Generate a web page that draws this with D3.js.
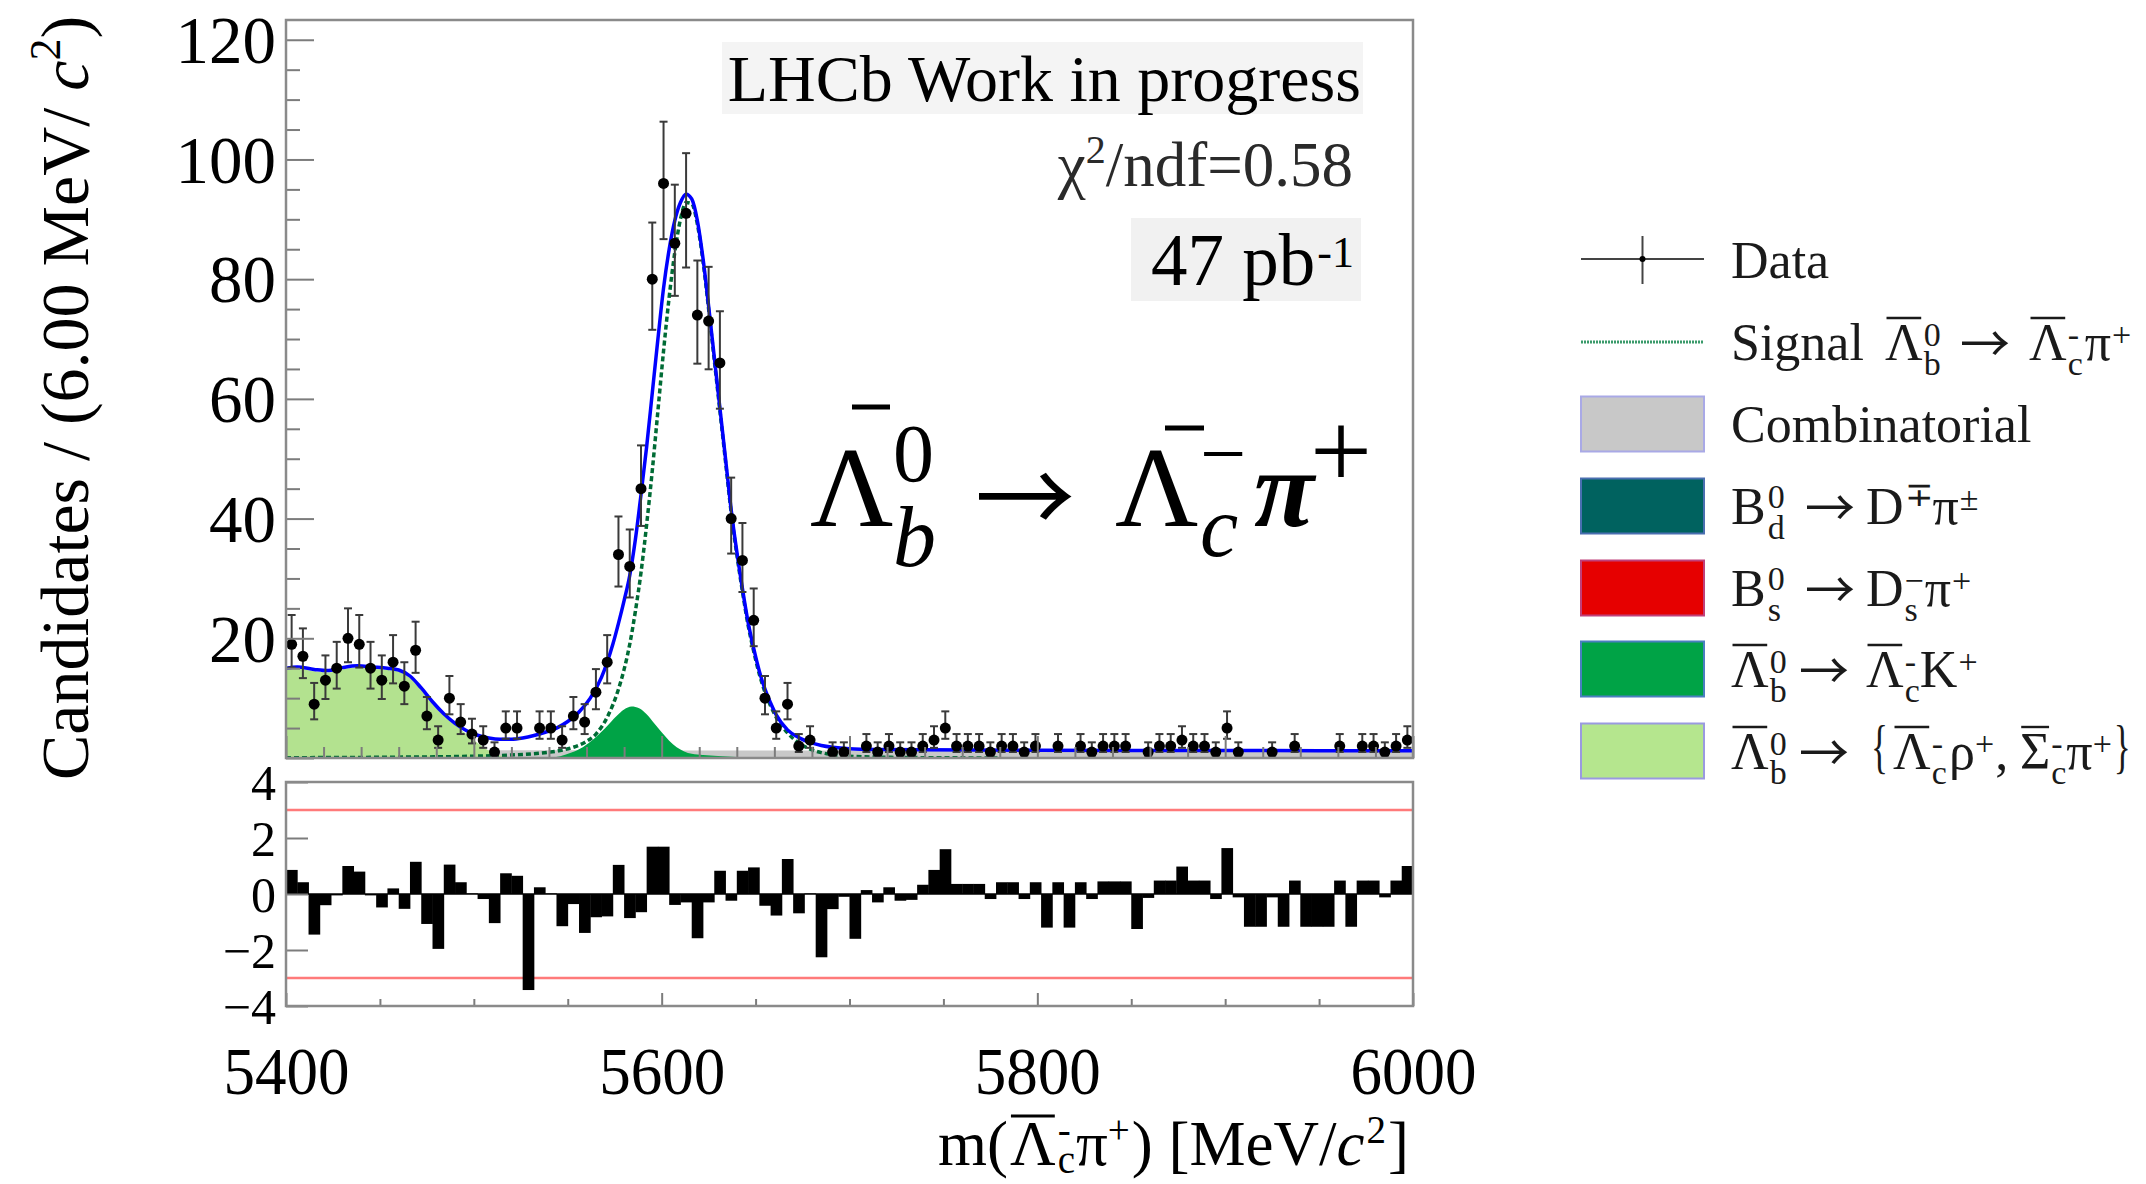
<!DOCTYPE html>
<html><head><meta charset="utf-8">
<script src="https://cdn.jsdelivr.net/npm/d3@7"></script>
<style>
html,body{margin:0;padding:0;background:#fff;}
svg{display:block;}
text{font-family:"Liberation Serif","Times New Roman",serif;}
</style></head><body>
<svg id="c" width="2146" height="1184"></svg>
<script>
// ---------------- data ----------------
const massBins = [5403,5409,5415,5421,5427,5433,5439,5445,5451,5457,5463,5469,5475,5481,5487,5493,5499,5505,5511,5517,
5523,5529,5535,5541,5547,5553,5559,5565,5571,5577,5583,5589,5595,5601,5607,5613,5619,5625,5631,5637,
5643,5649,5655,5661,5667,5673,5679,5685,5691,5697,5703,5709,5715,5721,5727,5733,5739,5745,5751,5757,
5763,5769,5775,5781,5787,5793,5799,5805,5811,5817,5823,5829,5835,5841,5847,5853,5859,5865,5871,5877,
5883,5889,5895,5901,5907,5913,5919,5925,5931,5937,5943,5949,5955,5961,5967,5973,5979,5985,5991,5997];
const binHalfWidth = 3;
const counts = [19,17,9,13,15,20,19,15,13,16,
12,18,7,3,10,6,4,3,1,5,
5,0,5,5,3,7,6,11,16,34,
32,45,80,96,86,91,74,73,66,40,
33,23,10,5,9,2,3,0,1,1,
0,2,1,2,1,1,2,3,5,2,
2,2,1,2,2,1,2,0,2,0,
2,1,2,2,2,0,1,2,2,3,
2,2,1,5,1,0,0,1,0,2,
0,0,0,2,0,2,2,1,2,3];
const pulls = [0.86,0.42,-1.45,-0.40,-0.05,1.00,0.80,-0.05,-0.48,0.20,
-0.53,1.15,-1.07,-1.96,1.05,0.42,0.02,-0.18,-1.04,0.74,
0.65,-3.43,0.24,0.02,-1.15,-0.36,-1.39,-0.83,-0.80,1.04,
-0.86,-0.65,1.69,1.69,-0.39,-0.30,-1.58,-0.30,0.83,-0.24,
0.83,0.95,-0.42,-0.77,1.25,-0.69,0.02,-2.26,-0.54,-0.10,
-1.60,0.14,-0.30,0.24,-0.24,-0.21,0.33,0.86,1.60,0.36,
0.36,0.36,-0.18,0.42,0.42,-0.18,0.42,-1.20,0.42,-1.20,
0.42,-0.18,0.45,0.45,0.45,-1.25,-0.14,0.48,0.48,0.98,
0.48,0.48,-0.18,1.64,-0.12,-1.17,-1.17,-0.12,-1.17,0.48,
-1.17,-1.17,-1.17,0.48,-1.17,0.48,0.48,-0.12,0.48,1.00];

const fitMass = [5400,5406,5415,5422,5430,5438,5446,5454,5460,5466,5472,5478,5484,5490,5496,5502,5508,5514,5520,5526,
5532,5538,5544,5550,5556,5562,5568,5574,5577,5580,5583,5586,5589,5592,5595,5598,5601,5604,5607,5610,
5613,5616,5619,5622,5625,5628,5631,5634,5637,5640,5643,5646,5649,5652,5655,5658,5661,5667,5673,5679,
5685,5691,5700,5715,5740,5800,5900,6000];
const fitTotal = [15.0,15.2,14.8,14.6,15.1,15.4,15.2,15.0,14.7,13.7,11.7,9.4,7.4,5.8,4.6,3.8,3.35,3.15,3.15,3.35,
3.75,4.3,5.0,6.1,7.7,10.0,13.5,19.0,22.5,26.3,30.5,36.5,44.0,52.0,61.0,70.0,78.5,85.0,89.8,92.8,
94.2,93.4,89.8,83.5,75.5,67.0,58.5,50.0,41.5,34.5,28.3,22.7,18.3,14.5,11.5,9.2,7.2,4.7,3.4,2.6,
2.1,1.8,1.55,1.42,1.36,1.3,1.25,1.2];
const sigMass = [5400,5450,5500,5520,5535,5545,5553,5559,5565,5571,5577,5580,5583,5586,5589,5592,5595,5598,5601,5604,
5607,5610,5613,5616,5619,5622,5625,5628,5631,5634,5637,5640,5643,5646,5649,5652,5655,5658,5661,5667,
5673,5679,5685,5691,5700,5720,5750,5780];
const sigVals = [0.05,0.12,0.3,0.5,0.8,1.2,1.8,2.6,4.0,6.8,11.5,14.8,19.0,24.5,31.0,39.0,48.0,58.0,68.0,77.0,
84.5,90.0,92.8,92.6,89.2,83.0,75.0,66.5,58.0,49.5,41.0,34.0,27.8,22.2,17.8,14.0,11.0,8.7,6.8,4.2,
2.5,1.5,0.9,0.55,0.3,0.12,0.04,0.0];
const partRecoMass = [5400,5406,5415,5422,5430,5438,5446,5454,5460,5466,5472,5478,5484,5490,5496,5502,5508,5514,5520];
const partRecoVals = [14.7,14.9,14.5,14.3,14.8,15.1,14.9,14.7,14.4,13.4,11.4,9.1,7.1,5.5,4.0,2.5,1.2,0.4,0.0];
const lcKMass = [5540,5546,5552,5558,5564,5570,5576,5580,5584,5588,5592,5596,5600,5604,5608,5612,5616,5622,5630,5640,5648];
const lcKVals = [0,0.3,0.9,1.8,3.2,5.0,7.0,8.1,8.6,8.3,7.3,5.8,4.3,2.9,1.8,1.1,0.7,0.5,0.35,0.15,0];
const combMass = [5400,5500,5600,5700,5800,5900,6000];
const combVals = [1.32,1.29,1.26,1.23,1.2,1.17,1.14];

const yTickValues = [20,40,60,80,100,120];
const yTickLabels = ['20','40','60','80','100','120'];
const xTickValues = [5400,5600,5800,6000];
const xTickLabels = ['5400','5600','5800','6000'];
const pullTickValues = [4,2,0,-2,-4];
const pullTickLabels = ['4','2','0','\u22122','\u22124'];

// ---------------- layout ----------------
const svg = d3.select('#c');
const X0 = 286, X1 = 1413, YT = 20, YB = 758, RT = 782, RB = 1006;
const x = d3.scaleLinear().domain([5400, 6000]).range([X0, X1]);
const y = d3.scaleLinear().domain([0, 123.3]).range([YB, YT]);
const yr = d3.scaleLinear().domain([-4, 4]).range([RB, RT]);
const FRAME = '#8a8a8a', TICK = '#7c7c7c';
const ARROWFONT = '"Noto Sans CJK JP","Noto Sans CJK SC","DejaVu Sans",sans-serif';

const defs = svg.append('defs');
defs.append('clipPath').attr('id','clipMain').append('rect').attr('x',X0).attr('y',YT).attr('width',X1-X0).attr('height',YB-YT);
defs.append('clipPath').attr('id','clipRes').append('rect').attr('x',X0).attr('y',RT).attr('width',X1-X0).attr('height',RB-RT);

// ---------------- main plot content ----------------
const gm = svg.append('g').attr('clip-path','url(#clipMain)');
function areaPath(ms, vs){
  return d3.area().x((d,i)=>x(ms[i])).y0(y(0)).y1(d=>y(d)).curve(d3.curveMonotoneX)(vs);
}
function linePath(ms, vs){
  return d3.line().x((d,i)=>x(ms[i])).y(d=>y(d)).curve(d3.curveMonotoneX)(vs);
}
gm.append('path').attr('d',areaPath(combMass,combVals)).attr('fill','#c8c8c8');
gm.append('path').attr('d',areaPath(partRecoMass,partRecoVals)).attr('fill','#b3e28f');
gm.append('path').attr('d',areaPath(lcKMass,lcKVals)).attr('fill','#00a346');
gm.append('path').attr('d',linePath(sigMass,sigVals)).attr('fill','none')
  .attr('stroke','#006b35').attr('stroke-width',3.5).attr('stroke-dasharray','5,3');
gm.append('path').attr('d',linePath(fitMass,fitTotal)).attr('fill','none')
  .attr('stroke','#0000ff').attr('stroke-width',3.5);

// data points
const pts = massBins.map((m,i)=>({m, n:counts[i]})).filter(d=>d.n>0);
const gd = svg.append('g');
pts.forEach(d=>{
  const s = Math.sqrt(d.n + 0.25);
  const lo = d.n - (s - 0.5), hi = d.n + (s + 0.5);
  const cx = x(d.m);
  gd.append('line').attr('x1',cx).attr('x2',cx).attr('y1',y(lo)).attr('y2',y(hi)).attr('stroke','#3a3a3a').attr('stroke-width',2);
  gd.append('line').attr('x1',cx-4).attr('x2',cx+4).attr('y1',y(hi)).attr('y2',y(hi)).attr('stroke','#3a3a3a').attr('stroke-width',2);
  gd.append('line').attr('x1',cx-4).attr('x2',cx+4).attr('y1',y(lo)).attr('y2',y(lo)).attr('stroke','#3a3a3a').attr('stroke-width',2);
  gd.append('circle').attr('cx',cx).attr('cy',y(d.n)).attr('r',5.5).attr('fill','#000');
});

// main axes (ticks inside)
const gy = svg.append('g').attr('transform',`translate(${X0},0)`)
  .call(d3.axisLeft(y).tickValues(d3.range(0,121,5)).tickSize(-14).tickFormat(''));
gy.select('.domain').remove();
gy.selectAll('.tick line').attr('stroke',TICK).attr('stroke-width',2).attr('x2',d=> d%20===0 ? 28 : 14);
const gyl = svg.append('g').attr('transform',`translate(${X0},0)`)
  .call(d3.axisLeft(y).tickValues(yTickValues).tickFormat((d,i)=>yTickLabels[i]).tickSize(0).tickPadding(10));
gyl.attr('font-size',null).attr('font-family',null);
gyl.select('.domain').remove();
gyl.selectAll('text').attr('font-size',67).attr('fill','#000').attr('dy','0.34em');

const gx = svg.append('g').attr('transform',`translate(0,${YB})`)
  .call(d3.axisBottom(x).tickValues(d3.range(5400,6001,20)).tickSize(-11).tickFormat(''));
gx.select('.domain').remove();
gx.selectAll('.tick line').attr('stroke',TICK).attr('stroke-width',2).attr('y2',d=> d%100===0 ? -22 : -11);

svg.append('rect').attr('x',X0).attr('y',YT).attr('width',X1-X0).attr('height',YB-YT)
  .attr('fill','none').attr('stroke',FRAME).attr('stroke-width',2.5);

// ---------------- residual plot ----------------
const gr = svg.append('g').attr('clip-path','url(#clipRes)');
gr.append('line').attr('x1',X0).attr('x2',X1).attr('y1',yr(3)).attr('y2',yr(3)).attr('stroke','#ff7a7a').attr('stroke-width',2.5);
gr.append('line').attr('x1',X0).attr('x2',X1).attr('y1',yr(-3)).attr('y2',yr(-3)).attr('stroke','#ff7a7a').attr('stroke-width',2.5);
gr.append('line').attr('x1',X0).attr('x2',X1).attr('y1',yr(0)).attr('y2',yr(0)).attr('stroke','#000').attr('stroke-width',1.5);
gr.selectAll('rect.bar').data(pulls).enter().append('rect').attr('class','bar')
  .attr('x',(d,i)=>x(massBins[i]-binHalfWidth))
  .attr('width',(d,i)=>x(massBins[i]+binHalfWidth)-x(massBins[i]-binHalfWidth)+0.4)
  .attr('y',d=>yr(Math.max(0,d)))
  .attr('height',d=>Math.abs(yr(d)-yr(0)))
  .attr('fill','#000');

const gry = svg.append('g').attr('transform',`translate(${X0},0)`)
  .call(d3.axisLeft(yr).tickValues(pullTickValues).tickSize(-22).tickFormat(''));
gry.select('.domain').remove();
gry.selectAll('.tick line').attr('stroke',TICK).attr('stroke-width',2);
const gryl = svg.append('g').attr('transform',`translate(${X0},0)`)
  .call(d3.axisLeft(yr).tickValues(pullTickValues).tickFormat((d,i)=>pullTickLabels[i]).tickSize(0).tickPadding(10));
gryl.attr('font-size',null).attr('font-family',null);
gryl.select('.domain').remove();
gryl.selectAll('text').attr('font-size',50).attr('fill','#000').attr('dy','0.34em');

const grx = svg.append('g').attr('transform',`translate(0,${RB})`)
  .call(d3.axisBottom(x).tickValues(d3.range(5400,6001,50)).tickSize(-7).tickFormat(''));
grx.select('.domain').remove();
grx.selectAll('.tick line').attr('stroke',TICK).attr('stroke-width',2).attr('y2',d=> d%200===0 ? -13 : -7);
const grxl = svg.append('g').attr('transform',`translate(0,${RB})`)
  .call(d3.axisBottom(x).tickValues(xTickValues).tickFormat((d,i)=>xTickLabels[i]).tickSize(0).tickPadding(40));
grxl.attr('font-size',null).attr('font-family',null);
grxl.select('.domain').remove();
grxl.selectAll('text').attr('font-size',67).attr('fill','#000').attr('dy','0.71em')
  .attr('textLength',126).attr('lengthAdjust','spacingAndGlyphs');

svg.append('rect').attr('x',X0).attr('y',RT).attr('width',X1-X0).attr('height',RB-RT)
  .attr('fill','none').attr('stroke',FRAME).attr('stroke-width',2.5);

// ---------------- rich text helper: one <text> with positioned tspans ----------------
function rich(parent, x0, y0, parts, opts){
  opts = opts || {};
  const color = opts.color || '#000';
  const g = parent.append('g').attr('fill',color);
  const t = g.append('text');
  let cx = x0, prevX = x0;
  parts.forEach(p=>{
    const px = p.stack ? prevX : (p.ax !== undefined ? p.ax : cx + (p.dx||0));
    const ts = t.append('tspan').attr('x',px).attr('y',y0+(p.dy||0)).attr('font-size',p.s).text(p.t);
    if(p.it) ts.attr('font-style','italic');
    if(p.bold) ts.attr('font-weight','bold');
    if(p.ff) ts.style('font-family',p.ff);
    if(p.tl){ ts.attr('textLength',p.tl).attr('lengthAdjust','spacingAndGlyphs'); }
    const w = p.tl ? p.tl : ts.node().getComputedTextLength();
    if(p.bar){
      g.append('line').attr('x1',px+p.bar[0]*w).attr('x2',px+p.bar[1]*w)
       .attr('y1',y0+p.bar[2]).attr('y2',y0+p.bar[2]).attr('stroke',color).attr('stroke-width',p.bar[3]||2.4);
    }
    if(!p.stack){ prevX = px; cx = px + w; } else { cx = Math.max(cx, px + w); }
  });
  if(opts.endX !== undefined) g.attr('transform',`translate(${opts.endX - cx},0)`);
  return cx;
}

// ---------------- annotations in main plot ----------------
svg.append('rect').attr('x',722).attr('y',42).attr('width',641).attr('height',72).attr('fill','#f4f4f4');
svg.append('text').attr('x',1361).attr('y',101).attr('text-anchor','end').attr('font-size',66).attr('fill','#000')
  .text('LHCb Work in progress');
const chi = svg.append('text').attr('x',1353).attr('y',186).attr('text-anchor','end').attr('font-size',63).attr('fill','#2a2a2a');
chi.append('tspan').text('\u03c7');
chi.append('tspan').attr('font-size',40).attr('dy',-23).text('2');
chi.append('tspan').attr('dy',23).text('/ndf=0.58');
svg.append('rect').attr('x',1131).attr('y',218).attr('width',230).attr('height',83).attr('fill','#f1f1f1');
rich(svg, 1151, 285, [
  {t:'47 pb', s:73, ax:1151},
  {t:'-1', s:44, dy:-18, dx:2}
]);

// big decay formula (positions)
rich(svg, 810, 526, [
  {t:'\u039b', s:115, ax:810},
  {t:'0', s:82, ax:893, dy:-45},
  {t:'b', s:86, dy:40, stack:true, it:true},
  {t:'\u2192', s:100, ax:975, dy:8, ff:ARROWFONT},
  {t:'\u039b', s:115, ax:1115},
  {t:'\u2212', s:82, ax:1200, dy:-45},
  {t:'c', s:86, dy:30, stack:true, it:true},
  {t:'\u03c0', s:110, ax:1254, it:true, bold:true},
  {t:'+', s:110, ax:1310, dy:-38}
]);
svg.append('line').attr('x1',852).attr('x2',890).attr('y1',407).attr('y2',407).attr('stroke','#000').attr('stroke-width',5);
svg.append('line').attr('x1',1165).attr('x2',1204).attr('y1',428).attr('y2',428).attr('stroke','#000').attr('stroke-width',5);

// ---------------- axis titles ----------------
const yl = svg.append('text').attr('transform','translate(88,398) rotate(-90)').attr('text-anchor','middle')
  .attr('font-size',68).attr('fill','#000');
yl.append('tspan').text('Candidates / (6.00 MeV/ ');
yl.append('tspan').attr('font-style','italic').text('c');
yl.append('tspan').attr('font-size',44).attr('dy',-28).text('2');
yl.append('tspan').attr('dy',28).text(')');

rich(svg, 914, 1165, [
  {t:'m(', s:63},
  {t:'\u039b', s:63, dx:2, bar:[0.02,0.98,-49,3]},
  {t:'-', s:39, dy:-22, dx:2},
  {t:'c', s:39, dy:8, stack:true},
  {t:'\u03c0', s:63, dx:1},
  {t:'+', s:39, dy:-22},
  {t:') [MeV/', s:63, dx:2},
  {t:'c', s:63, it:true},
  {t:'2', s:39, dy:-22, dx:2},
  {t:']', s:63, dx:2}
], {endX:1409});

// ---------------- legend ----------------
const LX0 = 1581, LW = 123, LH = 55, LTX = 1731;
const rowC = [259, 342, 424, 506, 588, 669, 751];
const LC = '#1a1a1a';
const gl = svg.append('g');
// Data
gl.append('line').attr('x1',LX0).attr('x2',LX0+LW).attr('y1',rowC[0]).attr('y2',rowC[0]).attr('stroke','#444').attr('stroke-width',2);
gl.append('line').attr('x1',LX0+LW/2).attr('x2',LX0+LW/2).attr('y1',rowC[0]-23).attr('y2',rowC[0]+25).attr('stroke','#444').attr('stroke-width',2);
gl.append('circle').attr('cx',LX0+LW/2).attr('cy',rowC[0]).attr('r',3).attr('fill','#000');
// Signal
gl.append('line').attr('x1',LX0).attr('x2',LX0+LW).attr('y1',rowC[1]).attr('y2',rowC[1]).attr('stroke','#3a9a6a').attr('stroke-width',3).attr('stroke-dasharray','2,1');
// boxes
const boxCols = ['#c8c8c8','#00625f','#e60000','#00a346','#b5e68e'];
const boxStroke = ['#a9a9e6','#4a6fb0','#c0407a','#4a7fc0','#9a9ae0'];
boxCols.forEach((c,i)=>{
  gl.append('rect').attr('x',LX0).attr('y',rowC[i+2]-LH/2).attr('width',LW).attr('height',LH)
    .attr('fill',c).attr('stroke',boxStroke[i]).attr('stroke-width',2);
});
const S = 52, s2 = 34, SUP = -14, SUB = 15, AS = 50;
const LB = rowC.map(c=>c+18);
const barL = [0.04,0.96,-42,2.4];
gl.append('text').attr('x',LTX).attr('y',LB[0]+1).attr('font-size',S).attr('fill',LC).text('Data');
rich(gl, LTX, LB[1], [
  {t:'Signal', s:S, ax:LTX},
  {t:'\u039b', s:S, ax:1885, bar:barL},
  {t:'0', s:s2, dy:SUP, dx:1},
  {t:'b', s:s2, dy:SUB, stack:true},
  {t:'\u2192', s:AS, ax:1960, ff:ARROWFONT, dy:2},
  {t:'\u039b', s:S, ax:2029, bar:barL},
  {t:'-', s:s2, dy:SUP, dx:1},
  {t:'c', s:s2, dy:SUB, stack:true},
  {t:'\u03c0', s:S, dx:2},
  {t:'+', s:s2, dy:SUP, dx:1}
], {color:LC});
gl.append('text').attr('x',LTX).attr('y',LB[2]).attr('font-size',S).attr('fill',LC).text('Combinatorial');
rich(gl, LTX, LB[3], [
  {t:'B', s:S, ax:LTX},
  {t:'0', s:s2, dy:SUP-2, dx:2},
  {t:'d', s:s2, dy:SUB, stack:true},
  {t:'\u2192', s:AS, ax:1805, ff:ARROWFONT, dy:2},
  {t:'D', s:S, ax:1866},
  {t:'\u2213', s:s2, dy:SUP-4, dx:1},
  {t:'\u03c0', s:S, dx:0},
  {t:'\u00b1', s:s2, dy:SUP, dx:1}
], {color:LC});
rich(gl, LTX, LB[4], [
  {t:'B', s:S, ax:LTX},
  {t:'0', s:s2, dy:SUP-2, dx:2},
  {t:'s', s:s2, dy:SUB, stack:true},
  {t:'\u2192', s:AS, ax:1805, ff:ARROWFONT, dy:2},
  {t:'D', s:S, ax:1866},
  {t:'\u2212', s:s2, dy:SUP, dx:1},
  {t:'s', s:s2, dy:SUB, stack:true},
  {t:'\u03c0', s:S, dx:1},
  {t:'+', s:s2, dy:SUP, dx:1}
], {color:LC});
rich(gl, LTX, LB[5], [
  {t:'\u039b', s:S, ax:LTX, bar:barL},
  {t:'0', s:s2, dy:SUP, dx:1},
  {t:'b', s:s2, dy:SUB, stack:true},
  {t:'\u2192', s:AS, ax:1799, ff:ARROWFONT, dy:2},
  {t:'\u039b', s:S, ax:1866, bar:barL},
  {t:'-', s:s2, dy:SUP, dx:1},
  {t:'c', s:s2, dy:SUB, stack:true},
  {t:'K', s:S, dx:0},
  {t:'+', s:s2, dy:SUP, dx:1}
], {color:LC});
rich(gl, LTX, LB[6], [
  {t:'\u039b', s:S, ax:LTX, bar:barL},
  {t:'0', s:s2, dy:SUP, dx:1},
  {t:'b', s:s2, dy:SUB, stack:true},
  {t:'\u2192', s:AS, ax:1799, ff:ARROWFONT, dy:2},
  {t:'{', s:60, ax:1871, dy:-3, tl:17},
  {t:'\u039b', s:S, ax:1893, bar:barL},
  {t:'-', s:s2, dy:SUP, dx:1},
  {t:'c', s:s2, dy:SUB, stack:true},
  {t:'\u03c1', s:S, ax:1949},
  {t:'+', s:s2, dy:SUP, dx:0},
  {t:',', s:S, dx:1},
  {t:'\u03a3', s:S, ax:2020, bar:barL},
  {t:'-', s:s2, dy:SUP, dx:1},
  {t:'c', s:s2, dy:SUB, stack:true},
  {t:'\u03c0', s:S, dx:0},
  {t:'+', s:s2, dy:SUP, dx:0},
  {t:'}', s:60, dx:2, dy:-3, tl:17}
], {color:LC});
</script>
</body></html>
